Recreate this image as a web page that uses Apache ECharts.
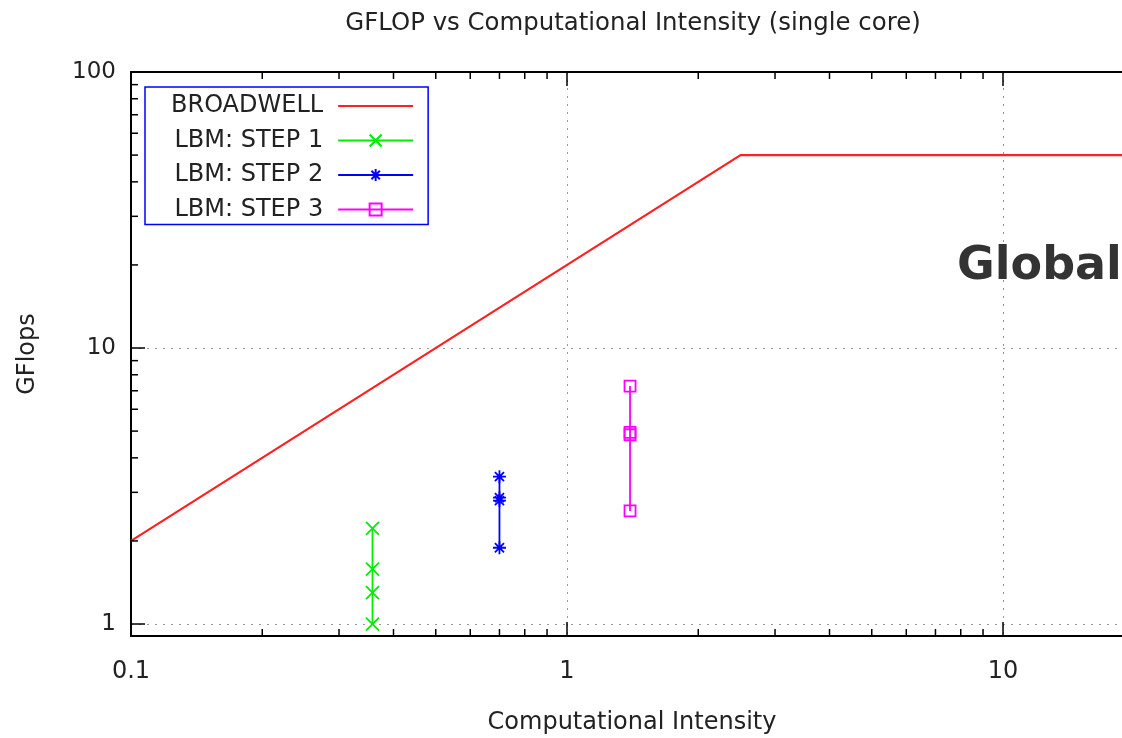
<!DOCTYPE html>
<html>
<head>
<meta charset="utf-8">
<script src="https://cdn.jsdelivr.net/npm/echarts@6/dist/echarts.min.js"></script>
<style>
html,body{margin:0;padding:0;background:#fff;}
#chart{width:1122px;height:738px;}
</style>
</head>
<body>
<div id="chart"></div>
<script>
// ---- data ----
const seriesNames = ['BROADWELL', 'LBM: STEP 1', 'LBM: STEP 2', 'LBM: STEP 3'];
const roofIntensity = [0.1, 2.5, 100];
const roofGflops = [2, 50, 50];
const step1Intensity = [0.358, 0.358, 0.358, 0.358];
const step1Gflops = [2.22, 1.58, 1.30, 1.0];
const step2Intensity = [0.70, 0.70, 0.70, 0.70];
const step2Gflops = [3.42, 2.87, 2.80, 1.89];
const step3Intensity = [1.395, 1.395, 1.395, 1.395];
const step3Gflops = [7.28, 4.95, 4.85, 2.57];
const xMinorTicks = [0.2,0.3,0.4,0.5,0.6,0.7,0.8,0.9,2,3,4,5,6,7,8,9,20,30,40,50,60,70,80,90];
const yMinorTicks = [2,3,4,5,6,7,8,9,20,30,40,50,60,70,80,90];
const titleText = 'GFLOP vs Computational Intensity (single core)';
const xLabel = 'Computational Intensity';
const yLabel = 'GFlops';

const zip = (a, b) => a.map((v, i) => [v, b[i]]);
const FONT = 'DejaVu Sans';
const TXT = '#222';

function isPow10(v) {
  const l = Math.log10(v);
  return Math.abs(l - Math.round(l)) < 1e-6;
}

const chart = echarts.init(document.getElementById('chart'), null, {renderer: 'canvas'});

const logXAxisBase = {
  type: 'log', logBase: 10, min: 0.1, max: 100, gridIndex: 0
};

const option = {
  animation: false,
  backgroundColor: '#fff',
  grid: {left: 131, top: 72, width: 1308, height: 564, containLabel: false, outerBoundsMode: 'none', show: false},
  xAxis: [
    Object.assign({}, logXAxisBase, {
      position: 'bottom',
      axisLine: {show: true, lineStyle: {color: '#000', width: 2}},
      axisTick: {show: true, inside: true, length: 14, lineStyle: {color: '#000', width: 1.5}},
      axisLabel: {show: true, margin: 24, fontSize: 24, fontFamily: FONT, color: TXT,
        formatter: v => isPow10(v) ? String(v) : ''},
      splitLine: {show: true, lineStyle: {color: '#999', type: [2, 6], width: 1}},
      minorTick: {show: false}
    }),
    Object.assign({}, logXAxisBase, {
      position: 'top',
      axisLine: {show: true, lineStyle: {color: '#000', width: 2}},
      axisTick: {show: true, inside: true, length: 14, lineStyle: {color: '#000', width: 1.5}},
      axisLabel: {show: false},
      splitLine: {show: false}
    })
  ],
  yAxis: [{
    type: 'log', logBase: 10, min: 0.905, max: 100,
    axisLine: {show: true, lineStyle: {color: '#000', width: 2}},
    axisTick: {show: true, inside: true, length: 14, lineStyle: {color: '#000', width: 1.5}},
    axisLabel: {show: true, margin: 15, fontSize: 23, fontFamily: FONT, color: TXT,
      formatter: v => isPow10(v) ? String(Math.round(v)) : ''},
    splitLine: {show: true, lineStyle: {color: '#999', type: [2, 6], width: 1}}
  }],
  legend: {
    data: seriesNames,
    orient: 'vertical',
    align: 'right',
    left: 145,
    top: 87,
    itemWidth: 75,
    itemHeight: 15,
    itemGap: 10.5,
    padding: [7, 14, 3, 26],
    borderColor: '#0000ff',
    borderWidth: 1.5,
    borderRadius: 0,
    backgroundColor: '#fff',
    textStyle: {fontSize: 24, fontFamily: FONT, color: TXT, lineHeight: 24, padding: [0, 10, 0, 0]},
    selectedMode: false
  },
  graphic: [
    {type: 'text', x: 633, y: 24, style: {text: titleText, font: '24.4px "DejaVu Sans"', fill: TXT, align: 'center', verticalAlign: 'middle'}},
    {type: 'text', x: 632, y: 723, style: {text: xLabel, font: '24px "DejaVu Sans"', fill: TXT, align: 'center', verticalAlign: 'middle'}},
    {type: 'text', x: 28, y: 354, rotation: Math.PI / 2, style: {text: yLabel, font: '24px "DejaVu Sans"', fill: TXT, align: 'center', verticalAlign: 'middle'}},
    {type: 'text', x: 957, y: 267, z: 100, style: {text: 'Global', font: 'bold 46px "DejaVu Sans"', fill: '#333', align: 'left', verticalAlign: 'middle'}}
  ],
  series: [
    {
      name: seriesNames[0], type: 'line', xAxisIndex: 0, yAxisIndex: 0,
      data: zip(roofIntensity, roofGflops),
      showSymbol: false, symbol: 'none',
      lineStyle: {color: '#ff2020', width: 2.2},
      itemStyle: {color: 'rgba(0,0,0,0)'},
      z: 3
    },
    {
      name: seriesNames[1], type: 'line', xAxisIndex: 0, yAxisIndex: 0,
      data: zip(step1Intensity, step1Gflops),
      symbol: 'path://M0,0L10,10M10,0L0,10', symbolSize: 13,
      lineStyle: {color: '#00ee00', width: 1.8},
      itemStyle: {color: 'rgba(0,0,0,0)', borderColor: '#00ee00', borderWidth: 1.8},
      z: 4
    },
    {
      name: seriesNames[2], type: 'line', xAxisIndex: 0, yAxisIndex: 0,
      data: zip(step2Intensity, step2Gflops),
      symbol: 'path://M5,0L5,10M0,5L10,5M1.5,1.5L8.5,8.5M8.5,1.5L1.5,8.5', symbolSize: 13,
      lineStyle: {color: '#0000ff', width: 1.8},
      itemStyle: {color: 'rgba(0,0,0,0)', borderColor: '#0000ff', borderWidth: 1.8},
      z: 4
    },
    {
      name: seriesNames[3], type: 'line', xAxisIndex: 0, yAxisIndex: 0,
      data: zip(step3Intensity, step3Gflops),
      symbol: 'path://M0,0L10,0L10,10L0,10Z', symbolSize: 11,
      lineStyle: {color: '#ff00ff', width: 1.8},
      itemStyle: {color: 'rgba(0,0,0,0)', borderColor: '#ff00ff', borderWidth: 1.8},
      z: 4
    },
    {
      name: 'xMinor', type: 'custom', xAxisIndex: 0, yAxisIndex: 0, silent: true, clip: false,
      data: xMinorTicks.map(v => [v, 10]),
      renderItem: (params, api) => {
        const cs = params.coordSys;
        const p = api.coord([api.value(0), api.value(1)]);
        const x = p[0], b = cs.y + cs.height, t = cs.y;
        return {type: 'group', children: [
          {type: 'line', shape: {x1: x, y1: b, x2: x, y2: b - 7}, style: {stroke: '#000', lineWidth: 1.5}},
          {type: 'line', shape: {x1: x, y1: t, x2: x, y2: t + 7}, style: {stroke: '#000', lineWidth: 1.5}}
        ]};
      },
      z: 5
    },
    {
      name: 'yMinor', type: 'custom', xAxisIndex: 0, yAxisIndex: 0, silent: true, clip: false,
      data: yMinorTicks.map(v => [1, v]),
      renderItem: (params, api) => {
        const cs = params.coordSys;
        const p = api.coord([api.value(0), api.value(1)]);
        const y = p[1], l = cs.x, r = cs.x + cs.width;
        return {type: 'group', children: [
          {type: 'line', shape: {x1: l, y1: y, x2: l + 7, y2: y}, style: {stroke: '#000', lineWidth: 1.5}},
          {type: 'line', shape: {x1: r, y1: y, x2: r - 7, y2: y}, style: {stroke: '#000', lineWidth: 1.5}}
        ]};
      },
      z: 5
    }
  ]
};
chart.setOption(option);
</script>
</body>
</html>
